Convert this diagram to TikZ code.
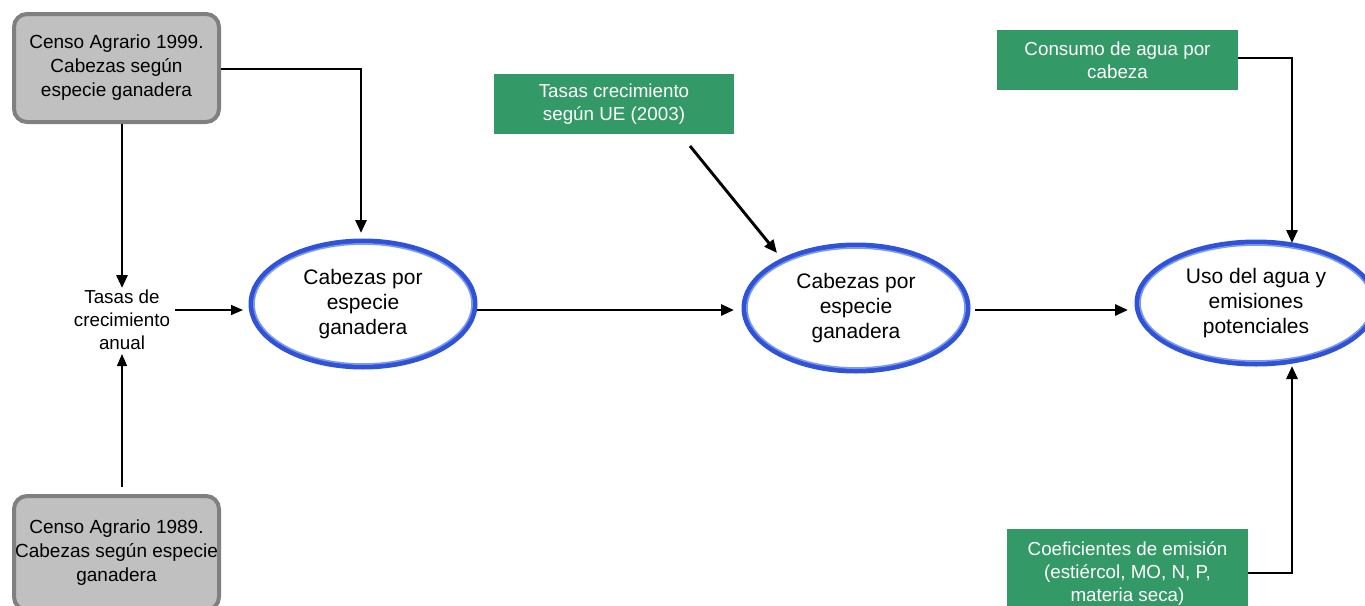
\documentclass[tikz,border=0pt]{standalone}
\usepackage{fontspec}
\setmainfont{Liberation Sans}
\usetikzlibrary{arrows.meta,shapes.geometric}
\definecolor{grayfill}{HTML}{C0C0C0}
\definecolor{grayline}{HTML}{808080}
\definecolor{greenbox}{HTML}{339966}
\definecolor{blueline}{HTML}{2F52D6}
\definecolor{bluelight}{HTML}{7A98F0}
\begin{document}
\begin{tikzpicture}[x=1pt,y=-1pt,
  censo/.style={draw=grayline, line width=4pt, fill=grayfill, rounded corners=13pt,
    minimum width=205pt, inner sep=0pt, align=center,
    font=\fontsize{19}{24}\selectfont},
  gbox/.style={fill=greenbox, text=white, inner sep=0pt, align=center,
    font=\fontsize{18.8}{23}\selectfont},
  oval/.style={ellipse, draw=blueline, line width=5pt, fill=white, inner sep=0pt,
    align=center, font=\fontsize{21}{25}\selectfont},
  ovalin/.style={ellipse, draw=bluelight, line width=1.6pt, inner sep=0pt},
  plain/.style={align=center, inner sep=0pt, font=\fontsize{18.8}{23}\selectfont},
  arr/.style={line width=2.9pt, -{Triangle[length=13pt,width=11pt]}},
  thinarr/.style={line width=1.4pt, -{Triangle[length=12pt,width=10pt]}}
]
\useasboundingbox (0,0) rectangle (1365,605);

% gray census boxes
\node[censo, minimum height=108pt] (c99) at (116.5,68) {Censo Agrario 1999.\\Cabezas según\\especie ganadera};
\node[censo, minimum height=114pt] (c89) at (116.5,553) {Censo Agrario 1989.\\Cabezas según especie\\ganadera};

% text node
\node[plain] (tasas) at (122,320) {Tasas de\\crecimiento\\anual};

% green boxes
\node[gbox, minimum width=240pt, minimum height=60pt] (ue) at (614,104) {Tasas crecimiento\\según UE (2003)};
\node[gbox, minimum width=241pt, minimum height=60pt] (agua) at (1117.5,60) {Consumo de agua por\\cabeza};
\node[gbox, minimum width=241pt, minimum height=90pt] (coef) at (1127.5,574) {Coeficientes de emisión\\(estiércol, MO, N, P,\\materia seca)};

% ellipses
\node[oval, minimum width=224pt, minimum height=126pt] (e1) at (363,304) {\raisebox{-5pt}{\begin{tabular}{@{}c@{}}Cabezas por\\especie\\ganadera\end{tabular}}};
\node[ovalin, minimum width=218pt, minimum height=120pt] at (e1.center) {};
\node[oval, minimum width=224pt, minimum height=126pt] (e2) at (856,308) {\raisebox{-4pt}{\begin{tabular}{@{}c@{}}Cabezas por\\especie\\ganadera\end{tabular}}};
\node[ovalin, minimum width=218pt, minimum height=120pt] at (e2.center) {};
\node[oval, minimum width=238pt, minimum height=122pt] (e3) at (1256,303) {Uso del agua y\\emisiones\\potenciales};
\node[ovalin, minimum width=232pt, minimum height=116pt] at (e3.center) {};

% coordinates
\coordinate (c99r) at (221,69);
\coordinate (k1) at (361,69);
\coordinate (t1) at (361,233);
\coordinate (d1) at (122,124);
\coordinate (d1t) at (122,288);
\coordinate (u1) at (122,487);
\coordinate (u1t) at (122,354);
\coordinate (s1) at (175,310);
\coordinate (s1t) at (243,310);
\coordinate (m1) at (477,310);
\coordinate (m1t) at (734,310);
\coordinate (ue1) at (690,146);
\coordinate (ue1t) at (777,253);
\coordinate (m2) at (975,310);
\coordinate (m2t) at (1128,310);
\coordinate (a1) at (1238,58);
\coordinate (a2) at (1292,58);
\coordinate (a2t) at (1292,243);
\coordinate (f1) at (1248,573);
\coordinate (f2) at (1292,573);
\coordinate (f2t) at (1292,366);

% connectors
\draw[arr] (c99r) -- (k1) -- (t1);
\draw[arr] (d1) -- (d1t);
\draw[thinarr] (u1) -- (u1t);
\draw[thinarr] (s1) -- (s1t);
\draw[arr] (m1) -- (m1t);
\draw[arr] (ue1) -- (ue1t);
\draw[arr] (m2) -- (m2t);
\draw[arr] (a1) -- (a2) -- (a2t);
\draw[arr] (f1) -- (f2) -- (f2t);
\end{tikzpicture}
\end{document}
